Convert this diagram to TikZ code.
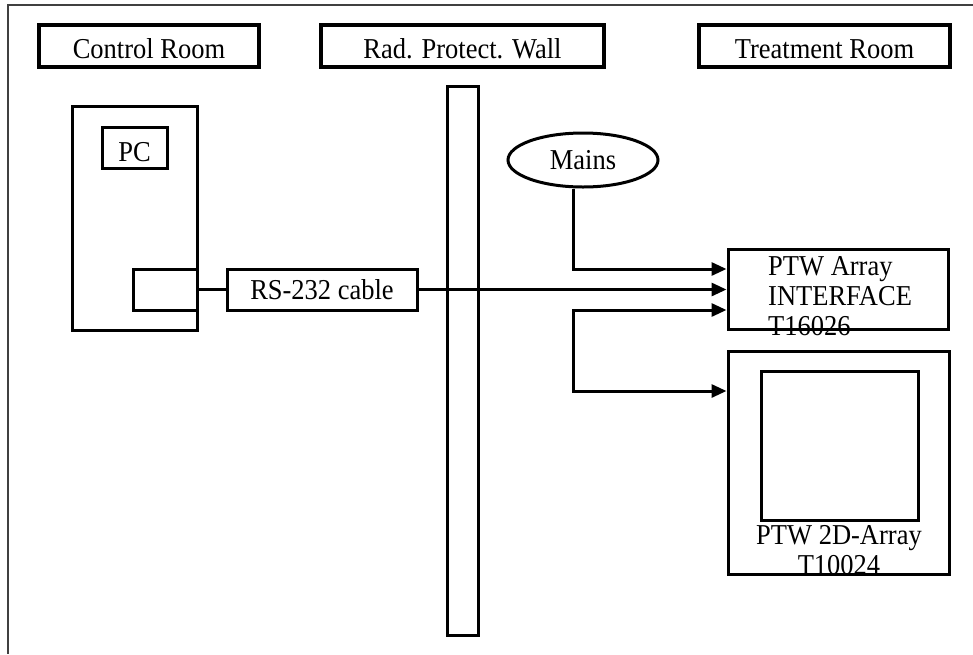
\documentclass[tikz,border=0pt]{standalone}
\usepackage{fontspec}
\setmainfont{Liberation Serif}[FakeStretch=0.92]
\usetikzlibrary{arrows.meta,calc,shapes.geometric}

\begin{document}
\begin{tikzpicture}[x=1pt,y=-1pt,>={Triangle[length=15pt,width=13pt]},
  box/.style={draw,line width=3pt,inner sep=0pt},
  hdr/.style={draw,line width=3.6pt,minimum height=42pt,inner sep=0pt,text height=25pt},
  wire/.style={line width=3pt},
  font=\fontsize{28.8}{30}\selectfont]
\useasboundingbox (0,0) rectangle (973,654);
% outer frame, cut off at right and bottom
\draw[line width=2pt,black!75] (973,5) -- (8,5) -- (8,654);
% headings
\node[hdr,minimum width=220pt] (ctrl) at (149,46) {Control Room};
\node[hdr,minimum width=283pt] (wallhdr) at (462.5,46) {Rad. Protect. Wall};
\node[hdr,minimum width=251pt] (treat) at (824.5,46) {Treatment Room};
% control room side
\node[box,minimum width=125pt,minimum height=224pt] (cab) at (134.5,218) {};
\node[box,minimum width=65pt,minimum height=41pt,text height=28pt] (pc) at (134.5,147.5) {PC};
\node[box,minimum width=64pt,minimum height=41pt] (port) at (165,289.5) {};
\node[box,minimum width=190pt,minimum height=41pt] (cable) at (322,289.5) {RS-232 cable};
% wall
\node[box,minimum width=31pt,minimum height=549pt] (wall) at (462.5,360.5) {};
% treatment room side
\node[box,ellipse,minimum width=150pt,minimum height=54pt] (mains) at (583,160) {Mains};
\node[box,minimum width=220pt,minimum height=80pt] (iface) at (838,289) {};
\node[anchor=north west,inner sep=0pt,align=left] (ifacetxt) at (768,256) {PTW Array\\INTERFACE\\T16026};
\node[box,minimum width=221pt,minimum height=223pt] (array) at (838.5,462.5) {};
\node[box,minimum width=157pt,minimum height=149pt] (panel) at (839.5,445.5) {};
\node[anchor=north,inner sep=0pt,align=center] (arraytxt) at (839,525) {PTW 2D-Array\\T10024};
% wiring
\coordinate (split) at (573,391);
\draw[wire] (port) -- (cable);
\draw[wire,->] (cable) -- (iface.west |- cable);
\draw[wire,->] (mains.south -| split) |- ($(iface.west)+(0,-20)$);
\draw[wire,<->] ($(iface.west)+(0,21)$) -| (split) -- (array.west |- split);
\end{tikzpicture}
\end{document}
